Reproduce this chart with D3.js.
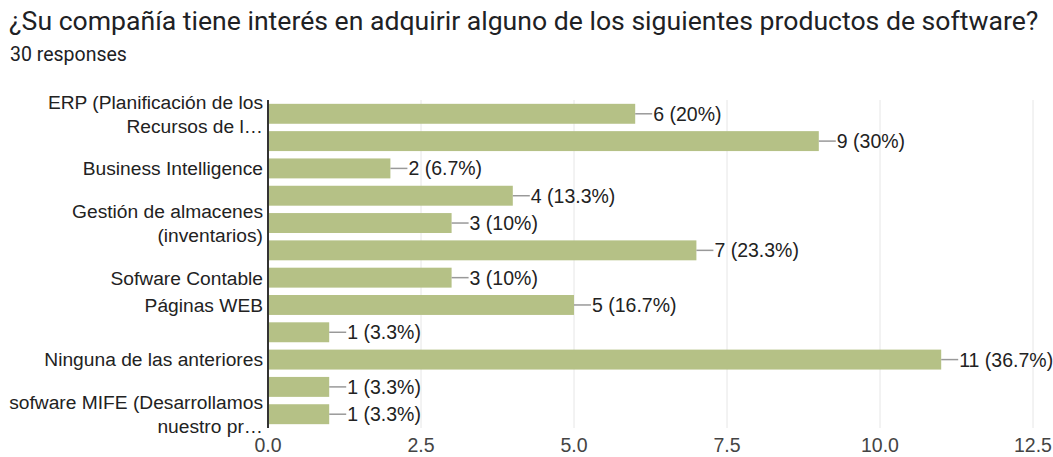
<!DOCTYPE html>
<html>
<head>
<meta charset="utf-8">
<script src="https://cdn.jsdelivr.net/npm/d3@7"></script>
<style>
  body { margin: 0; background: #fff; }
  #chart text { font-family: Arial, "Liberation Sans", sans-serif; }
  #chart text.head { font-family: Roboto, Arial, sans-serif; }
</style>
</head>
<body>
<div id="chart"></div>
<script>
// answers as they appear on the axis ("" = label hidden by the chart)
const categories = [
    ['ERP (Planificación de los', 'Recursos de l…'],
    [''],
    ['Business Intelligence'],
    [''],
    ['Gestión de almacenes', '(inventarios)'],
    [''],
    ['Sofware Contable'],
    ['Páginas WEB'],
    [''],
    ['Ninguna de las anteriores'],
    [''],
    ['sofware MIFE (Desarrollamos', 'nuestro pr…']
];
const counts = [6, 9, 2, 4, 3, 7, 3, 5, 1, 11, 1, 1];
const percents = ['20%', '30%', '6.7%', '13.3%', '10%', '23.3%', '10%', '16.7%', '3.3%', '36.7%', '3.3%', '3.3%'];
const xTicks = [0, 2.5, 5, 7.5, 10, 12.5];
const totalResponses = 30;

const width = 1053, height = 457;
const margin = { top: 100, right: 20, bottom: 29, left: 268 };

const svg = d3.select('#chart').append('svg')
    .attr('width', width)
    .attr('height', height);

svg.append('text')
    .attr('class', 'head')
    .attr('x', 9).attr('y', 30)
    .style('font-size', '26.6px')
    .style('fill', '#202124')
    .text('¿Su compañía tiene interés en adquirir alguno de los siguientes productos de software?');

svg.append('text')
    .attr('class', 'head')
    .attr('x', 10).attr('y', 61)
    .style('font-size', '19.5px')
    .style('fill', '#202124')
    .text(totalResponses + ' responses');

const x = d3.scaleLinear()
    .domain([0, 12.5])
    .range([margin.left, width - margin.right]);

const y = d3.scaleBand()
    .domain(d3.range(counts.length))
    .range([margin.top, height - margin.bottom])
    .paddingInner(0.27)
    .paddingOuter(0.14);

// vertical gridlines
svg.append('g')
    .selectAll('line')
    .data(xTicks.slice(1))
    .join('line')
    .attr('x1', d => x(d)).attr('x2', d => x(d))
    .attr('y1', margin.top).attr('y2', height - margin.bottom)
    .style('stroke', '#e6e6e6');

// tick labels
svg.append('g')
    .selectAll('text')
    .data(xTicks)
    .join('text')
    .attr('x', d => x(d))
    .attr('y', height - 5)
    .style('text-anchor', 'middle')
    .style('font-size', '19.5px')
    .style('fill', '#444')
    .text(d => d3.format('.1f')(d));

// bars
svg.append('g')
    .selectAll('rect')
    .data(counts)
    .join('rect')
    .attr('x', x(0))
    .attr('y', (d, i) => y(i))
    .attr('width', d => x(d) - x(0))
    .attr('height', y.bandwidth())
    .style('fill', '#b5c186');

// leader lines + value labels
svg.append('g')
    .selectAll('line')
    .data(counts)
    .join('line')
    .attr('x1', d => x(d)).attr('x2', d => x(d) + 17)
    .attr('y1', (d, i) => y(i) + y.bandwidth() / 2)
    .attr('y2', (d, i) => y(i) + y.bandwidth() / 2)
    .style('stroke', '#999')
    .style('stroke-width', 1.5);

svg.append('g')
    .selectAll('text')
    .data(counts)
    .join('text')
    .attr('x', d => x(d) + 18)
    .attr('y', (d, i) => y(i) + y.bandwidth() / 2)
    .attr('dy', '0.36em')
    .style('font-size', '19.5px')
    .style('fill', '#222')
    .text((d, i) => d + ' (' + percents[i] + ')');

// axis line
svg.append('line')
    .attr('x1', x(0)).attr('x2', x(0))
    .attr('y1', margin.top).attr('y2', height - margin.bottom)
    .style('stroke', '#333')
    .style('stroke-width', 2);

// category labels, one or two lines centred on their bar
const lineH = 24;
const fs = 19.2;
const labels = svg.append('g')
    .selectAll('text')
    .data(categories)
    .join('text')
    .attr('x', x(0) - 5)
    .attr('y', (d, i) => y(i) + y.bandwidth() / 2)
    .style('text-anchor', 'end')
    .style('font-size', fs + 'px')
    .style('fill', '#222');

labels.selectAll('tspan')
    .data(d => d)
    .join('tspan')
    .attr('x', x(0) - 5)
    .attr('dy', (d, j, nodes) => j === 0 ? (0.36 * fs - (nodes.length - 1) * lineH / 2) + 'px' : lineH + 'px')
    .text(d => d);
</script>
</body>
</html>
